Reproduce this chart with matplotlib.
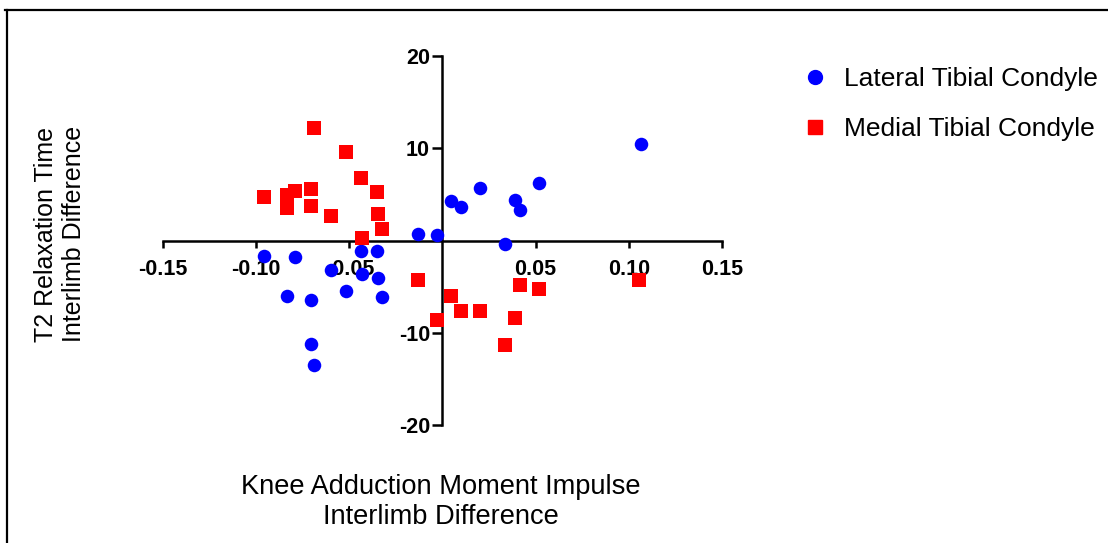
import matplotlib
matplotlib.use("Agg")
import matplotlib.pyplot as plt
from matplotlib.lines import Line2D

plt.rcParams['font.family'] = ['Liberation Sans', 'DejaVu Sans']

# Lateral Tibial Condyle (blue circles)
lat_x = [-0.0957, -0.0794, -0.0439, -0.0349, -0.0597, -0.0434, -0.0344, -0.0835,
         -0.0704, -0.0518, -0.0324, -0.0704, -0.0687, -0.0133, -0.0032, 0.1066,
         0.0516, 0.0203, 0.0045, 0.0099, 0.0387, 0.0414, 0.0337]
lat_y = [-1.70, -1.81, -1.16, -1.19, -3.25, -3.61, -4.04, -6.03,
         -6.50, -5.49, -6.14, -11.19, -13.54, 0.72, 0.65, 10.47,
         6.21, 5.74, 4.26, 3.68, 4.44, 3.36, -0.43]

# Medial Tibial Condyle (red squares)
med_x = [-0.0687, -0.0516, -0.0439, -0.0349, -0.0959, -0.0835, -0.0794, -0.0704,
         -0.0835, -0.0704, -0.0597, -0.0344, -0.0323, -0.0430, -0.0131, -0.0027,
         0.1057, 0.0414, 0.0516, 0.0045, 0.0099, 0.0203, 0.0389, 0.0337]
med_y = [12.17, 9.57, 6.75, 5.31, 4.69, 4.88, 5.34, 5.53,
         3.54, 3.79, 2.67, 2.82, 1.26, 0.25, -4.26, -8.60,
         -4.33, -4.80, -5.31, -6.07, -7.66, -7.62, -8.45, -11.30]

xticks = [-0.15, -0.10, -0.05, 0.05, 0.10, 0.15]
xticklabels = ["-0.15", "-0.10", "-0.05", "0.05", "0.10", "0.15"]
yticks = [-20, -10, 10, 20]
yticklabels = ["-20", "-10", "10", "20"]

W, H = 1108, 543
fig = plt.figure(figsize=(W / 100, H / 100), dpi=100)
ax = fig.add_axes([163 / W, (H - 425) / H, (722 - 163) / W, (425 - 56) / H])
ax.set_xlim(-0.15, 0.15)
ax.set_ylim(-20, 20)

ax.scatter(lat_x, lat_y, s=95, marker='o', color='#0000FF', linewidths=0,
           zorder=4, clip_on=False, label='Lateral Tibial Condyle')
ax.scatter(med_x, med_y, s=95, marker='s', color='#FF0000', linewidths=0,
           zorder=4, clip_on=False, label='Medial Tibial Condyle')

for s in ['top', 'right']:
    ax.spines[s].set_visible(False)
ax.spines['left'].set_position(('data', 0))
ax.spines['bottom'].set_position(('data', 0))
for s in ['left', 'bottom']:
    ax.spines[s].set_linewidth(1.8)
    ax.spines[s].set_color('black')

ax.set_xticks(xticks)
ax.set_xticklabels(xticklabels, fontsize=15.5, fontweight='bold')
ax.set_yticks(yticks)
ax.set_yticklabels(yticklabels, fontsize=15.5, fontweight='bold')
ax.tick_params(axis='x', direction='out', length=5, width=1.8, pad=8)
ax.tick_params(axis='y', direction='out', length=7, width=1.8, pad=2)
ax.set_facecolor('none')

fig.text(60 / W, 1 - 234 / H, "T2 Relaxation Time\nInterlimb Difference",
         rotation=90, ha='center', va='center', fontsize=18, linespacing=1.2)
fig.text(441 / W, 1 - 502 / H, "Knee Adduction Moment Impulse\nInterlimb Difference",
         ha='center', va='center', fontsize=19.6, linespacing=1.15)

handles = [
    Line2D([], [], marker='o', linestyle='none', color='#0000FF', markersize=10),
    Line2D([], [], marker='s', linestyle='none', color='#FF0000', markersize=10),
]
fig.legend(handles, ['Lateral Tibial Condyle', 'Medial Tibial Condyle'],
           loc='upper left', bbox_to_anchor=(802 / W, 1 - 67 / H), frameon=False,
           fontsize=19, labelspacing=1.0, handletextpad=0.6, handlelength=1.0,
           borderaxespad=0, borderpad=0)

# frame lines (top and left)
fig.add_artist(Line2D([5 / W, 1.0], [1 - 10 / H, 1 - 10 / H], color='black', linewidth=1.6,
                      transform=fig.transFigure))
fig.add_artist(Line2D([7 / W, 7 / W], [0, 1 - 10 / H], color='black', linewidth=1.6,
                      transform=fig.transFigure))

fig.savefig("out.png", dpi=100)
